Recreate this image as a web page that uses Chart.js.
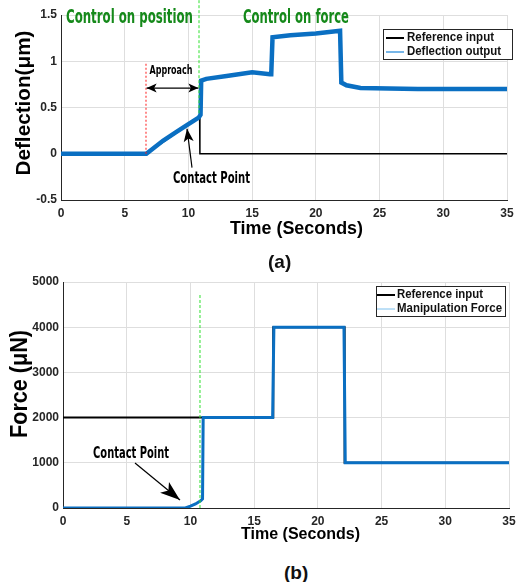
<!DOCTYPE html>
<html>
<head>
<meta charset="utf-8">
<script src="https://cdn.jsdelivr.net/npm/chart.js@4.4.0/dist/chart.umd.min.js"></script>
<style>
  body { margin: 0; background: #fff; width: 516px; height: 582px; position: relative; overflow: hidden; font-family: "Liberation Sans", Arial, sans-serif; }
  canvas { position: absolute; left: 0; }
  #chartA { top: 0; }
  #chartB { top: 262px; }
  .cap { position: absolute; font-weight: bold; font-size: 19px; color: #111; }
</style>
</head>
<body>
<canvas id="chartA" width="516" height="250"></canvas>
<canvas id="chartB" width="516" height="296"></canvas>
<div class="cap" style="left:268px;top:251px">(a)</div>
<div class="cap" style="left:284px;top:562px">(b)</div>
<script>
// tick labels
const timeTicks = [0, 5, 10, 15, 20, 25, 30, 35];
const deflTicks = [-0.5, 0, 0.5, 1, 1.5];
const forceTicks = [0, 1000, 2000, 3000, 4000, 5000];

// (a) deflection, time in seconds, values in um
const deflRefT = [0, 6.7, 10.88, 10.9, 35];
const deflRefV = [0, 0, 0.40, 0, 0];
const deflOutT = [0, 6.7, 8, 9, 10, 10.8, 10.95, 11.0, 11.4, 13, 15, 16.4, 16.5, 16.6, 18, 20, 21.9, 22.0, 22.4, 23.5, 28, 35];
const deflOutV = [0, 0, 0.14, 0.23, 0.32, 0.39, 0.42, 0.79, 0.81, 0.84, 0.88, 0.86, 0.86, 1.26, 1.28, 1.30, 1.33, 0.77, 0.74, 0.71, 0.70, 0.70];
const approachT = [6.67, 6.67];
const approachV = [0, 0.99];
const switchT = [10.83, 10.83];
const switchV = [1.66, 0.43];

// (b) force, values in uN
const forceRefT = [0, 16.5, 16.5, 22.1, 22.1, 35];
const forceRefV = [2000, 2000, 4000, 4000, 1000, 1000];
const forceOutT = [0, 9.6, 10, 10.4, 10.8, 10.95, 11.0, 16.45, 16.55, 22.05, 22.15, 35];
const forceOutV = [0, 0, 40, 90, 160, 200, 2000, 2000, 4000, 4000, 1000, 1000];
const switchBT = [10.75, 10.75];
const switchBV = [0, 4757];

const pts = (t, v) => t.map((x, i) => ({ x: x, y: v[i] }));
const INK = "#262626";
const BLUE = "#0a6fc2";

function fitText(ctx, s, cx, cy, font, w, color, rot) {
  ctx.save();
  ctx.font = font;
  ctx.fillStyle = color || "#000";
  ctx.textAlign = "center";
  ctx.textBaseline = "middle";
  ctx.translate(cx, cy);
  if (rot) ctx.rotate(rot);
  const m = ctx.measureText(s).width;
  if (w) ctx.scale(w / m, 1);
  ctx.fillText(s, 0, 0);
  ctx.restore();
}

function head(ctx, xt, yt, xf, yf, len, half) {
  const a = Math.atan2(yt - yf, xt - xf);
  const c = Math.cos(a), s = Math.sin(a);
  ctx.beginPath();
  ctx.moveTo(xt, yt);
  ctx.lineTo(xt - len * c + half * s, yt - len * s - half * c);
  ctx.lineTo(xt - 0.75 * len * c, yt - 0.75 * len * s);
  ctx.lineTo(xt - len * c - half * s, yt - len * s + half * c);
  ctx.closePath();
  ctx.fill();
}

// draws axis titles, annotations and the boxed legend
function makeDeco(o) {
  return {
    id: "deco",
    afterDatasetsDraw(chart) {
      const { ctx, scales: { x, y } } = chart;
      const P = (p) => [x.getPixelForValue(p[0]), y.getPixelForValue(p[1])];
      o.texts.forEach(t => {
        const p = t.at ? P(t.at) : t.px;
        fitText(ctx, t.s, p[0], p[1], t.font, t.w, t.color, t.rot);
      });
      ctx.save();
      ctx.strokeStyle = "#000";
      ctx.fillStyle = "#000";
      ctx.lineWidth = 1.2;
      o.arrows.forEach(a => {
        const p1 = P(a.from), p2 = P(a.to);
        ctx.beginPath();
        ctx.moveTo(p1[0], p1[1]);
        ctx.lineTo(p2[0], p2[1]);
        ctx.stroke();
        head(ctx, p2[0], p2[1], p1[0], p1[1], a.len, a.half);
        if (a.both) head(ctx, p1[0], p1[1], p2[0], p2[1], a.len, a.half);
      });
      ctx.restore();
      const L = o.legend;
      ctx.save();
      ctx.fillStyle = "#fff";
      ctx.fillRect(L.box[0], L.box[1], L.box[2], L.box[3]);
      ctx.strokeStyle = INK;
      ctx.lineWidth = 1;
      ctx.strokeRect(L.box[0] + 0.5, L.box[1] + 0.5, L.box[2], L.box[3]);
      chart.data.datasets.filter(d => d.inLegend).forEach((d, i) => {
        const yy = L.rows[i];
        ctx.strokeStyle = d.legendColor || d.borderColor;
        ctx.lineWidth = d.legendWidth || 1.5;
        ctx.beginPath();
        ctx.moveTo(L.line[0], yy);
        ctx.lineTo(L.line[1], yy);
        ctx.stroke();
        ctx.save();
        ctx.font = L.font;
        ctx.fillStyle = "#111";
        ctx.textBaseline = "middle";
        ctx.translate(L.textX, yy);
        const m = ctx.measureText(d.label).width;
        ctx.scale(L.widths[i] / m, 1);
        ctx.fillText(d.label, 0, 0);
        ctx.restore();
      });
      ctx.restore();
    }
  };
}

function axes(yTicks, yMin, yMax, yWidth) {
  const tickFont = { family: "Liberation Sans", size: 12, weight: "bold" };
  return {
    x: {
      type: "linear", min: 0, max: 35,
      afterBuildTicks: s => { s.ticks = timeTicks.map(v => ({ value: v })); },
      afterFit: s => { s.height = 50; s.paddingLeft = 0; s.paddingRight = 0; },
      grid: { color: "#dedede", drawTicks: false },
      border: { color: INK, width: 1 },
      ticks: { padding: 6, color: INK, font: tickFont, callback: v => String(v), maxRotation: 0 }
    },
    y: {
      type: "linear", min: yMin, max: yMax,
      afterBuildTicks: s => { s.ticks = yTicks.map(v => ({ value: v })); },
      afterFit: s => { s.width = yWidth; s.paddingTop = 0; s.paddingBottom = 0; },
      grid: { color: "#dedede", drawTicks: false },
      border: { color: INK, width: 1 },
      ticks: { padding: 4, color: INK, font: tickFont, callback: v => String(v) }
    }
  };
}

const cond = "bold 19px 'DejaVu Sans Condensed', 'Liberation Sans Narrow', sans-serif";
const condS = "bold 13px 'DejaVu Sans Condensed', 'Liberation Sans Narrow', sans-serif";
const condM = "bold 15px 'DejaVu Sans Condensed', 'Liberation Sans Narrow', sans-serif";

new Chart(document.getElementById("chartA"), {
  type: "line",
  plugins: [makeDeco({
    texts: [
      { s: "Control on position", px: [129.5, 18], font: cond, w: 127, color: "#15891a" },
      { s: "Control on force", px: [296, 18], font: cond, w: 106, color: "#15891a" },
      { s: "Approach", at: [8.63, 0.9], font: condS, w: 43, color: "#000" },
      { s: "Contact Point", at: [11.81, -0.27], font: condM, w: 77, color: "#000" },
      { s: "Deflection(\u03bcm)", px: [24, 103], font: "bold 20px 'Liberation Sans', sans-serif", w: 145, color: "#000", rot: -Math.PI / 2 },
      { s: "Time (Seconds)", px: [296.5, 229], font: "bold 18px 'Liberation Sans', sans-serif", w: 133, color: "#000" }
    ],
    arrows: [
      { from: [6.72, 0.71], to: [10.78, 0.71], len: 10, half: 4.5, both: true },
      { from: [10.28, -0.15], to: [9.89, 0.27], len: 13, half: 5 }
    ],
    legend: { box: [383, 29, 129, 30], line: [386, 404], rows: [38, 52], textX: 407, widths: [87, 94], font: "bold 12px 'Liberation Sans', sans-serif" }
  })],
  data: {
    datasets: [
      { label: "Reference input", data: pts(deflRefT, deflRefV), borderColor: "#000", borderWidth: 1.5, order: 2, inLegend: true, legendWidth: 2 },
      { label: "Deflection output", data: pts(deflOutT, deflOutV), borderColor: BLUE, borderWidth: 4.5, order: 1, inLegend: true, legendColor: "#4a9ee0", legendWidth: 1.5 },
      { label: "approach", data: pts(approachT, approachV), borderColor: "#ff1a1a", borderWidth: 1, borderDash: [2, 2], order: 0 },
      { label: "switch", data: pts(switchT, switchV), borderColor: "#2ee02e", borderWidth: 1, borderDash: [3, 2], order: 0, clip: false }
    ]
  },
  options: {
    responsive: false,
    animation: false,
    layout: { padding: { top: 15, right: 9, left: 0, bottom: 0 } },
    elements: { point: { radius: 0 }, line: { tension: 0 } },
    scales: axes(deflTicks, -0.5, 1.5, 61),
    plugins: { legend: { display: false }, tooltip: { enabled: false } }
  }
});

new Chart(document.getElementById("chartB"), {
  type: "line",
  plugins: [makeDeco({
    texts: [
      { s: "Contact Point", at: [5.34, 1195], font: condM, w: 76, color: "#000" },
      { s: "Force (\u03bcN)", px: [21, 122], font: "bold 23px 'Liberation Sans', sans-serif", w: 108, color: "#000", rot: -Math.PI / 2 },
      { s: "Time (Seconds)", px: [300.5, 273], font: "bold 16px 'Liberation Sans', sans-serif", w: 119, color: "#000" }
    ],
    arrows: [
      { from: [5.65, 996], to: [9.18, 177], len: 20, half: 7 }
    ],
    legend: { box: [376, 24, 129, 30], line: [377, 395], rows: [33, 47], textX: 397, widths: [86, 105], font: "bold 12px 'Liberation Sans', sans-serif" }
  })],
  data: {
    datasets: [
      { label: "Reference input", data: pts(forceRefT, forceRefV), borderColor: "#000", borderWidth: 2, order: 2, inLegend: true, legendWidth: 2 },
      { label: "Manipulation Force", data: pts(forceOutT, forceOutV), borderColor: BLUE, borderWidth: 3, order: 1, inLegend: true, legendColor: "#7cc0ee", legendWidth: 1 },
      { label: "switch", data: pts(switchBT, switchBV), borderColor: "#2ee02e", borderWidth: 1, borderDash: [3, 2], order: 0 }
    ]
  },
  options: {
    responsive: false,
    animation: false,
    layout: { padding: { top: 20, right: 7, left: 0, bottom: 0 } },
    elements: { point: { radius: 0 }, line: { tension: 0 } },
    scales: axes(forceTicks, 0, 5000, 63),
    plugins: { legend: { display: false }, tooltip: { enabled: false } }
  }
});
</script>
</body>
</html>
